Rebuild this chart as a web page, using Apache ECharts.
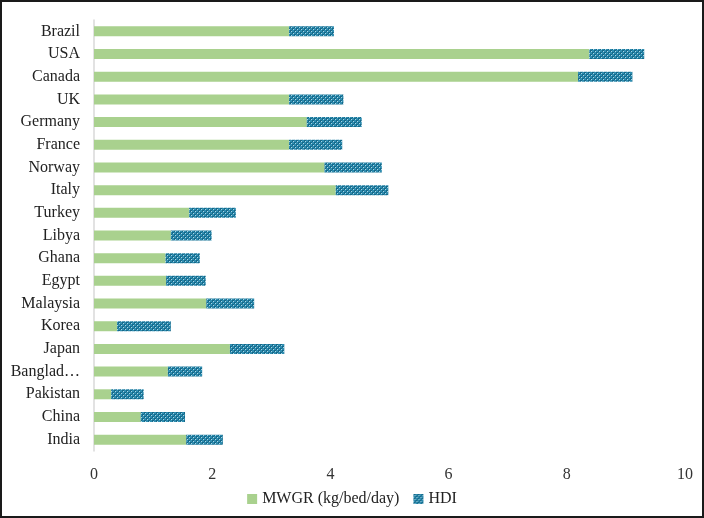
<!DOCTYPE html>
<html>
<head>
<meta charset="utf-8">
<script src="https://cdn.jsdelivr.net/npm/echarts@6/dist/echarts.min.js"></script>
<style>
html,body{margin:0;padding:0;background:#fff;}
#frame{box-sizing:border-box;width:704px;height:518px;border:2px solid #1a1a1a;position:relative;}
#chart{position:absolute;left:-2px;top:-2px;width:704px;height:518px;}
</style>
</head>
<body>
<div id="frame"><div id="chart"></div></div>
<script>
const countries = ["Brazil","USA","Canada","UK","Germany","France","Norway","Italy","Turkey","Libya","Ghana","Egypt","Malaysia","Korea","Japan","Bangladesh","Pakistan","China","India"];
const mwgr = [3.30,8.38,8.19,3.30,3.60,3.30,3.90,4.09,1.61,1.30,1.21,1.22,1.90,0.39,2.30,1.25,0.29,0.79,1.56];
const hdi  = [0.76,0.93,0.92,0.92,0.93,0.90,0.97,0.89,0.79,0.69,0.58,0.67,0.81,0.91,0.92,0.58,0.55,0.75,0.62];
const xTicks = [0,2,4,6,8,10];

// ECharts category axis lists from bottom to top; reverse to match reference order
const cats = countries.slice().reverse();
const mw = mwgr.slice().reverse();
const hd = hdi.slice().reverse();

function makePattern(){
  const c = document.createElement('canvas');
  c.width = 4; c.height = 4;
  const g = c.getContext('2d');
  g.fillStyle = '#2f8db0'; g.fillRect(0,0,4,4);
  g.fillStyle = '#15698a'; g.fillRect(0,0,2,2); g.fillRect(2,2,2,2);
  g.fillStyle = '#a9d6e6'; g.fillRect(1,1,1,1); g.fillRect(3,3,1,1);
  return c;
}
const pat = {image: makePattern(), repeat: 'repeat'};

const font = '"Liberation Serif", "DejaVu Serif", serif';
const chart = echarts.init(document.getElementById('chart'), null, {renderer:'canvas'});
chart.setOption({
  animation:false,
  textStyle:{fontFamily:font},
  grid:{left:94, right:19, top:20, bottom:67, containLabel:false},
  legend:{
    bottom:6, left:'center', itemWidth:10, itemHeight:10, itemGap:14, itemTextGap:4,
    textStyle:{fontFamily:font, fontSize:16, color:'#222'},
    data:[{name:'MWGR (kg/bed/day)', icon:'rect'},{name:'HDI', icon:'rect'}]
  },
  xAxis:{
    type:'value', min:0, max:10, interval:2,
    axisLine:{show:false}, axisTick:{show:false}, splitLine:{show:false},
    axisLabel:{fontFamily:font, fontSize:16, color:'#333', margin:16,
      formatter:v=> xTicks.includes(v)? String(v):''}
  },
  yAxis:{
    type:'category', data:cats,
    axisLine:{show:true, lineStyle:{color:'#d9d9d9', width:1.5}},
    axisTick:{show:false},
    axisLabel:{fontFamily:font, fontSize:16, color:'#222', margin:14, width:73, overflow:'truncate', ellipsis:'…'}
  },
  series:[
    {name:'MWGR (kg/bed/day)', type:'bar', stack:'s', data:mw, barWidth:10, itemStyle:{color:'#a9d18e'}},
    {name:'HDI', type:'bar', stack:'s', data:hd, barWidth:10, itemStyle:{color:pat}}
  ]
});
</script>
</body>
</html>
